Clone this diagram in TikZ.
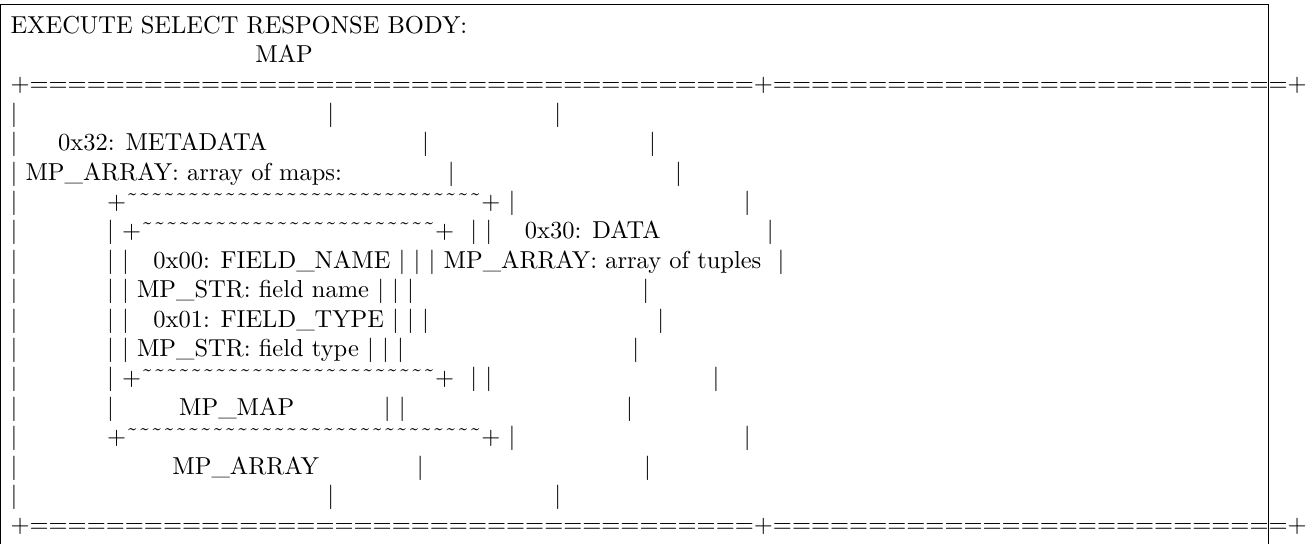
\documentclass[tikz,border=0pt]{standalone}
\usetikzlibrary{positioning}

% runs of blanks, equals signs and tildes as in the text box
\newcommand{\spc}[1]{\hspace*{#1\fontdimen2\font}}
\newcommand{\eqs}[1]{\foreach \i in {1,...,#1}{=}}
\newcommand{\tildes}[1]{\foreach \i in {1,...,#1}{\symbol{"02DC}}}

\begin{document}
\begin{tikzpicture}[
    x=1pt, y=-1pt,
    row/.style={anchor=base west, inner sep=0pt, font=\fontsize{10}{12}\selectfont},
    frame/.style={draw, line width=0.4pt},
]

\useasboundingbox (0,0) rectangle (535.5,222);

% Frame (open at the bottom)
\draw[frame] (0.4,222) -- (0.4,2) -- (517.6,2) -- (517.6,222);

% Heading
\node[row] (title) at (4.1,13.5) {EXECUTE SELECT RESPONSE BODY:};
\node[row] (maptag) at (4.1,25.5) {\spc{30}MAP};

% Outer map
\node[row] (topline) at (4.1,37.5) {+\eqs{38}+\eqs{27}+};
\node[row] (ln4) at (4.1,49.5) {|\spc{38}|\spc{27}|};
\node[row] (ln5) at (4.1,61.5) {|\spc{5}0x32: METADATA\spc{19}|\spc{27}|};
\node[row] (ln6) at (4.1,73.5) {| MP\_ARRAY: array of maps:\spc{13}|\spc{27}|};

% Array of maps
\node[row] (ln7) at (4.1,85.5) {|\spc{11}+\tildes{29}+ |\spc{28}|};
\node[row] (ln8) at (4.1,97.5) {|\spc{11}| +\tildes{24}+\spc{2}| |\spc{4}0x30: DATA\spc{13}|};
\node[row] (ln9) at (4.1,109.5) {|\spc{11}| |\spc{3}0x00: FIELD\_NAME | | | MP\_ARRAY: array of tuples\spc{2}|};
\node[row] (ln10) at (4.1,121.5) {|\spc{11}| | MP\_STR: field name | | |\spc{28}|};
\node[row] (ln11) at (4.1,133.5) {|\spc{11}| |\spc{3}0x01: FIELD\_TYPE | | |\spc{28}|};
\node[row] (ln12) at (4.1,145.5) {|\spc{11}| | MP\_STR: field type | | |\spc{28}|};
\node[row] (ln13) at (4.1,157.5) {|\spc{11}| +\tildes{24}+\spc{2}| |\spc{27}|};
\node[row] (ln14) at (4.1,169.5) {|\spc{11}|\spc{8}MP\_MAP\spc{11}| |\spc{27}|};
\node[row] (ln15) at (4.1,181.5) {|\spc{11}+\tildes{29}+ |\spc{28}|};
\node[row] (ln16) at (4.1,193.5) {|\spc{19}MP\_ARRAY\spc{12}|\spc{27}|};
\node[row] (ln17) at (4.1,205.5) {|\spc{38}|\spc{27}|};
\node[row] (bottomline) at (4.1,217.5) {+\eqs{38}+\eqs{27}+};

\end{tikzpicture}
\end{document}
